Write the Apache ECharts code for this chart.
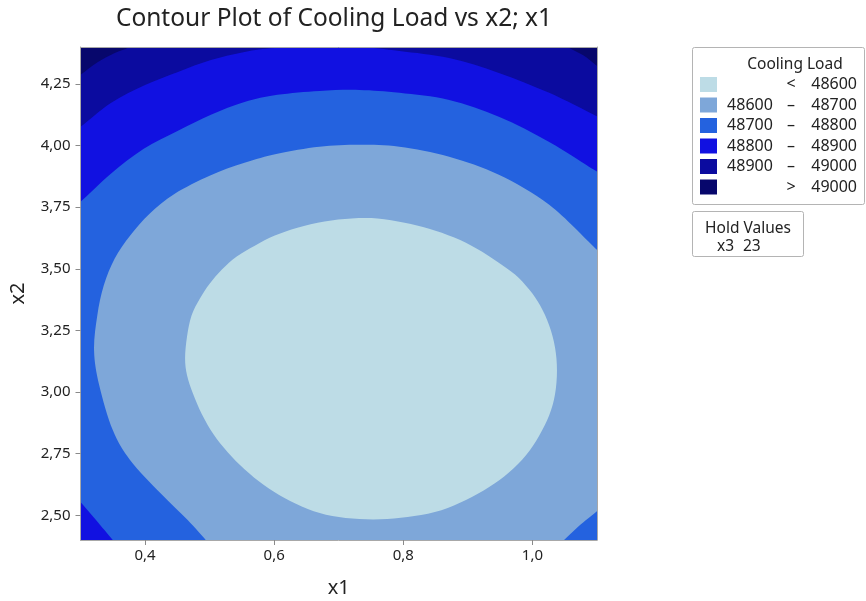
<!DOCTYPE html>
<html><head><meta charset="utf-8">
<script src="https://cdn.jsdelivr.net/npm/echarts@6/dist/echarts.min.js"></script>
<style>html,body{margin:0;padding:0;background:#fff}#c{width:866px;height:601px}</style>
</head><body><div id="c"></div>
<script>
// ---- data ----
const chartTitle = 'Contour Plot of Cooling Load vs x2; x1';
const legendTitle = 'Cooling Load';
const xRange = [0.3, 1.1];
const yRange = [2.4, 4.4];
const x1Ticks = [0.4, 0.6, 0.8, 1.0];
const x2Ticks = [2.5, 2.75, 3.0, 3.25, 3.5, 3.75, 4.0, 4.25];
const holdVar = 'x3';
const holdValue = 23;

// contour levels, lowest to highest: [from, sign, to]
const levelRows = [
  ['', '<', '48600'],
  ['48600', '–', '48700'],
  ['48700', '–', '48800'],
  ['48800', '–', '48900'],
  ['48900', '–', '49000'],
  ['', '>', '49000']
];
const levelNames = ['< 48600', '48600 – 48700', '48700 – 48800', '48800 – 48900', '48900 – 49000', '> 49000'];

// contour lines (x1, x2); end points sit just beyond the axis range
const line49000a = [[0.284, 4.262], [0.300, 4.287], [0.327, 4.339], [0.353, 4.376], [0.373, 4.396], [0.384, 4.416]];
const line49000b = [[1.041, 4.416], [1.057, 4.396], [1.080, 4.364], [1.098, 4.327], [1.111, 4.303]];
const line48900 = [[0.284, 4.052], [0.300, 4.076], [0.347, 4.173], [0.400, 4.246], [0.451, 4.299], [0.502, 4.347],
  [0.554, 4.380], [0.601, 4.396], [0.670, 4.400], [0.732, 4.400], [0.794, 4.384], [0.871, 4.355], [0.948, 4.295],
  [1.026, 4.214], [1.098, 4.121], [1.119, 4.092]];
const line48800 = [[0.284, 3.744], [0.300, 3.772], [0.347, 3.886], [0.398, 3.987], [0.451, 4.060], [0.502, 4.125],
  [0.554, 4.177], [0.605, 4.206], [0.670, 4.222], [0.732, 4.226], [0.794, 4.214], [0.871, 4.185], [0.948, 4.117],
  [1.026, 4.015], [1.098, 3.898], [1.119, 3.866]];
const line48800corner = [[0.361, 2.368], [0.350, 2.400], [0.324, 2.481], [0.300, 2.554], [0.284, 2.602]];
const line48700 = [[0.503, 2.368], [0.494, 2.400], [0.466, 2.481], [0.424, 2.590], [0.377, 2.724], [0.350, 2.846],
  [0.329, 3.028], [0.321, 3.169], [0.326, 3.311], [0.336, 3.432], [0.353, 3.542], [0.377, 3.635], [0.407, 3.724],
  [0.446, 3.805], [0.500, 3.878], [0.554, 3.930], [0.605, 3.967], [0.670, 3.995], [0.732, 4.003], [0.794, 3.995],
  [0.871, 3.955], [0.948, 3.882], [1.026, 3.760], [1.098, 3.582], [1.126, 3.513]];
const line48700corner = [[1.111, 2.542], [1.098, 2.513], [1.072, 2.457], [1.049, 2.400], [1.038, 2.368]];
const line48600 = [[0.462, 3.137], [0.465, 3.226], [0.472, 3.311], [0.485, 3.380], [0.500, 3.440], [0.519, 3.497],
  [0.542, 3.550], [0.570, 3.594], [0.601, 3.635], [0.636, 3.667], [0.678, 3.692], [0.720, 3.704], [0.760, 3.704],
  [0.802, 3.687], [0.840, 3.663], [0.879, 3.627], [0.914, 3.582], [0.945, 3.530], [0.973, 3.477], [0.995, 3.416],
  [1.012, 3.351], [1.026, 3.270], [1.035, 3.181], [1.038, 3.088], [1.035, 2.991], [1.026, 2.906], [1.010, 2.821],
  [0.990, 2.744], [0.964, 2.675], [0.933, 2.615], [0.897, 2.562], [0.859, 2.521], [0.817, 2.497], [0.775, 2.485],
  [0.732, 2.485], [0.690, 2.497], [0.652, 2.526], [0.616, 2.570], [0.584, 2.623], [0.554, 2.687], [0.528, 2.756],
  [0.506, 2.829], [0.488, 2.910], [0.474, 2.995], [0.465, 3.068]];
// corners beyond the axis range, used to close the regions
const outerBL = [0.25, 2.3], outerBR = [1.15, 2.3], outerTR = [1.15, 4.5], outerTL = [0.25, 4.5];

// ---- styles ----
const levelColors = ['#bddce6', '#7ea7d9', '#2462df', '#1111e1', '#0b0b9f', '#07076c'];
const FONT = 'Noto Sans';

// region of each level: pieces are smooth contour lines ('c') or straight closing edges ('e')
const regions = [
  { closed: true, pieces: [['c', line48600]] },
  { pieces: [['c', line48700], ['c', line48700corner]] },
  { pieces: [['c', line48800], ['e', [outerBR]], ['c', line48800corner]] },
  { pieces: [['c', line48900], ['e', [outerBR, outerBL]]] },
  { pieces: [['c', line49000a], ['c', line49000b], ['e', [outerBR, outerBL]]] },
  { pieces: [['e', [outerBL, outerBR, outerTR, outerTL]]] }
];

function splineSegs(P, closed) {
  // Catmull-Rom through pixel points P, returned as SVG cubic commands
  let d = '';
  const n = P.length;
  const get = i => closed ? P[(i + n) % n] : P[Math.max(0, Math.min(n - 1, i))];
  const last = closed ? n : n - 1;
  for (let i = 0; i < last; i++) {
    const p0 = get(i - 1), p1 = get(i), p2 = get(i + 1), p3 = get(i + 2);
    const c1 = [p1[0] + (p2[0] - p0[0]) / 6, p1[1] + (p2[1] - p0[1]) / 6];
    const c2 = [p2[0] - (p3[0] - p1[0]) / 6, p2[1] - (p3[1] - p1[1]) / 6];
    d += 'C' + c1[0].toFixed(2) + ' ' + c1[1].toFixed(2) + ' ' + c2[0].toFixed(2) + ' ' + c2[1].toFixed(2) + ' ' + p2[0].toFixed(2) + ' ' + p2[1].toFixed(2);
  }
  return d;
}

function regionRenderer(region) {
  return function (params, api) {
    if (params.dataIndex !== 0) return null;
    let d = '';
    region.pieces.forEach(([kind, pts]) => {
      const P = pts.map(p => api.coord(p));
      P.forEach((p, j) => {
        if (j === 0 || kind === 'e') d += (d === '' ? 'M' : 'L') + p[0].toFixed(2) + ' ' + p[1].toFixed(2);
      });
      if (kind === 'c') d += splineSegs(P, !!region.closed);
    });
    d += 'Z';
    return { type: 'path', shape: { pathData: d }, style: { fill: api.visual('color') } };
  };
}

// draw from the highest level (largest region) to the lowest
const series = [];
for (let i = regions.length - 1; i >= 0; i--) {
  const pts = [].concat(...regions[i].pieces.map(p => p[1]));
  series.push({
    type: 'custom',
    name: levelNames[i],
    data: pts,
    encode: { x: 0, y: 1 },
    clip: true,
    silent: true,
    itemStyle: { color: levelColors[i] },
    renderItem: regionRenderer(regions[i])
  });
}

const rowByName = {};
levelNames.forEach((n, i) => rowByName[n] = levelRows[i]);

const fmtX = v => v.toFixed(1).replace('.', ',');
const fmtY = v => v.toFixed(2).replace('.', ',');
const txt = (size, extra) => Object.assign({ fontFamily: FONT, fontSize: size, color: '#222' }, extra || {});

const chart = echarts.init(document.getElementById('c'), null, { renderer: 'canvas' });
chart.setOption({
  animation: false,
  backgroundColor: '#ffffff',
  grid: { left: 80.5, right: 269, top: 47, bottom: 61, containLabel: false, outerBoundsMode: 'none' },
  xAxis: [{
    type: 'value', min: xRange[0], max: xRange[1], z: 10,
    name: 'x1', nameLocation: 'middle', nameGap: 38,
    nameTextStyle: txt(20),
    axisLine: { show: true, lineStyle: { color: '#a8a8a8', width: 1 } },
    axisTick: { show: true, length: 5, lineStyle: { color: '#8a8a8a' }, customValues: x1Ticks },
    axisLabel: Object.assign(txt(15), { margin: 8, customValues: x1Ticks, formatter: fmtX }),
    splitLine: { show: false }
  }, {
    type: 'value', min: xRange[0], max: xRange[1], position: 'top', z: 10,
    axisLine: { show: true, lineStyle: { color: '#a8a8a8', width: 1 } },
    axisTick: { show: false }, axisLabel: { show: false }, splitLine: { show: false }
  }],
  yAxis: [{
    type: 'value', min: yRange[0], max: yRange[1], z: 10,
    name: 'x2', nameLocation: 'middle', nameGap: 52,
    nameTextStyle: txt(20),
    axisLine: { show: true, lineStyle: { color: '#a8a8a8', width: 1 } },
    axisTick: { show: true, length: 5, lineStyle: { color: '#8a8a8a' }, customValues: x2Ticks },
    axisLabel: Object.assign(txt(15), { margin: 10, customValues: x2Ticks, formatter: fmtY }),
    splitLine: { show: false }
  }, {
    type: 'value', min: yRange[0], max: yRange[1], position: 'right', z: 10,
    axisLine: { show: true, lineStyle: { color: '#a8a8a8', width: 1 } },
    axisTick: { show: false }, axisLabel: { show: false }, splitLine: { show: false }
  }],
  legend: {
    orient: 'vertical', left: 700, top: 76.5, padding: 0,
    itemWidth: 17, itemHeight: 15, itemGap: 4.5, icon: 'rect',
    selectedMode: false,
    data: levelNames.slice(),
    formatter: n => { const r = rowByName[n]; return '{a|' + r[0] + '}{b|' + r[1] + '}{c|' + r[2] + '}'; },
    textStyle: txt(16, {
      lineHeight: 16,
      rich: {
        a: txt(16, { width: 56, align: 'right', lineHeight: 16 }),
        b: txt(16, { width: 26, align: 'center', lineHeight: 16 }),
        c: txt(16, { width: 53, align: 'right', lineHeight: 16 })
      }
    })
  },
  graphic: [
    { type: 'text', x: 334, y: 19, style: { text: chartTitle, fontFamily: FONT, fontSize: 24.5, fill: '#222', align: 'center', verticalAlign: 'middle' } },
    { type: 'rect', shape: { x: 692.5, y: 47.5, width: 172, height: 157, r: 2 }, style: { fill: 'none', stroke: '#b4b4b4', lineWidth: 1 } },
    { type: 'text', x: 795, y: 65, style: { text: legendTitle, fontFamily: FONT, fontSize: 15.5, fill: '#222', align: 'center', verticalAlign: 'middle' } },
    { type: 'rect', shape: { x: 692.5, y: 211.5, width: 111, height: 45, r: 2 }, style: { fill: 'none', stroke: '#b4b4b4', lineWidth: 1 } },
    { type: 'text', x: 748, y: 229, style: { text: 'Hold Values', fontFamily: FONT, fontSize: 15.5, fill: '#222', align: 'center', verticalAlign: 'middle' } },
    { type: 'text', x: 717, y: 247, style: { text: holdVar, fontFamily: FONT, fontSize: 15.5, fill: '#222', align: 'left', verticalAlign: 'middle' } },
    { type: 'text', x: 743, y: 247, style: { text: String(holdValue), fontFamily: FONT, fontSize: 15.5, fill: '#222', align: 'left', verticalAlign: 'middle' } }
  ],
  series: series
});
</script>
</body></html>
